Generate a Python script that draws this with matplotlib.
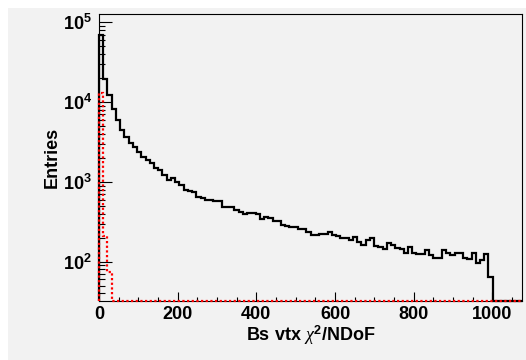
import numpy as np
import matplotlib
matplotlib.use("Agg")
import matplotlib.pyplot as plt
from matplotlib.patches import Rectangle
from matplotlib.ticker import LogLocator, FixedLocator, MultipleLocator, FuncFormatter, NullFormatter

plt.rcParams['font.family'] = ['Liberation Sans', 'DejaVu Sans']
plt.rcParams['mathtext.fontset'] = 'custom'
plt.rcParams['mathtext.rm'] = 'Liberation Sans:bold'
plt.rcParams['mathtext.bf'] = 'Liberation Sans:bold'
plt.rcParams['mathtext.it'] = 'Liberation Serif:italic'

# ---- data ----
x_min, x_max, n_bins = 0, 1076, 100
black_counts = [
    69300, 19300, 12300, 8130, 5970, 4470, 3680, 3050, 2760, 2390,
    2070, 1880, 1710, 1480, 1410, 1220, 1060, 1130, 1010, 915,
    791, 776, 754, 653, 630, 593, 593, 581, 581, 489,
    489, 481, 445, 424, 396, 408, 411, 396, 340, 366,
    350, 326, 326, 288, 280, 275, 275, 255, 255, 236,
    216, 216, 222, 222, 236, 216, 210, 196, 196, 187,
    206, 177, 162, 187, 196, 157, 154, 146, 173, 162,
    147, 143, 130, 154, 130, 125, 125, 140, 121, 110,
    110, 140, 127, 121, 130, 130, 110, 107, 127, 95,
    105, 125, 64, 0, 0, 0, 0, 0, 0, 0,
]
red_counts = [
    12900, 210, 75, 0, 0, 0, 0, 0, 0, 0,
    0, 0, 0, 0, 0, 0, 0, 0, 0, 0,
    0, 0, 0, 0, 0, 0, 0, 0, 0, 0,
    0, 0, 0, 0, 0, 0, 0, 0, 0, 0,
    0, 0, 0, 0, 0, 0, 0, 0, 0, 0,
    0, 0, 0, 0, 0, 0, 0, 0, 0, 0,
    0, 0, 0, 0, 0, 0, 0, 0, 0, 0,
    0, 0, 0, 0, 0, 0, 0, 0, 0, 0,
    0, 0, 0, 0, 0, 0, 0, 0, 0, 0,
    0, 0, 0, 0, 0, 0, 0, 0, 0, 0,
]
y_min, y_max = 32.4, 1.27e5
x_label = r'Bs vtx $\chi^{2}$/NDoF'
y_label = 'Entries'
x_major_ticks = [0, 200, 400, 600, 800, 1000]

edges = np.linspace(x_min, x_max, n_bins + 1)

W, H = 526, 360
fig = plt.figure(figsize=(W / 100, H / 100), dpi=100)
fig.patch.set_facecolor('white')
bg = '#f2f2f2'
fig.add_artist(Rectangle((8 / W, 0), 1, 1 - 8 / H, transform=fig.transFigure,
                         facecolor=bg, edgecolor='none', zorder=0))

left, right, top, bottom = 99, 522.3, 14, 300.7
ax = fig.add_axes([left / W, (H - bottom) / H, (right - left) / W, (bottom - top) / H])
ax.set_facecolor(bg)

bvals = np.clip(np.array(black_counts, float), y_min, None)
rvals = np.clip(np.array(red_counts, float), y_min, None)
ax.stairs(bvals, edges, baseline=y_min, color='black', lw=1.6, clip_on=False, zorder=3)
ax.stairs(rvals, edges, baseline=y_min, color='#ff0000', lw=1.6,
          linestyle=(0, (1.0, 1.1)), clip_on=False, zorder=4)

ax.set_yscale('log')
ax.set_xlim(x_min, x_max)
ax.set_ylim(y_min, y_max)

for s in ax.spines.values():
    s.set_color('black')
    s.set_linewidth(0.8)

ax.xaxis.set_major_locator(FixedLocator(x_major_ticks))
ax.xaxis.set_minor_locator(MultipleLocator(50))
ax.yaxis.set_major_locator(LogLocator(base=10, numticks=10))
ax.yaxis.set_minor_locator(LogLocator(base=10, subs=np.arange(2, 10), numticks=20))
ax.yaxis.set_major_formatter(FuncFormatter(lambda v, p: r'$\mathbf{10^{%d}}$' % round(np.log10(v))))
ax.yaxis.set_minor_formatter(NullFormatter())

ax.tick_params(axis='x', which='major', direction='in', length=6.3, width=0.8, pad=4,
               labelsize=13, top=False)
ax.tick_params(axis='x', which='minor', direction='in', length=3.2, width=0.8, top=False)
ax.tick_params(axis='y', which='major', direction='in', length=9, width=0.8, pad=5,
               labelsize=13, right=False)
ax.tick_params(axis='y', which='minor', direction='in', length=4.6, width=0.8, right=False)
for lab in ax.get_xticklabels():
    lab.set_fontweight('bold')

ax.set_xlabel(x_label, fontsize=13, fontweight='bold')
ax.set_ylabel(y_label, fontsize=13, fontweight='bold')
ax.xaxis.label.set_va('center')
ax.yaxis.label.set_va('center')
ax.xaxis.set_label_coords(0.5, (bottom - 335.5) / (bottom - top))
ax.yaxis.set_label_coords((52 - left) / (right - left), 0.5)

fig.savefig('out.png', dpi=100, facecolor=fig.get_facecolor())
